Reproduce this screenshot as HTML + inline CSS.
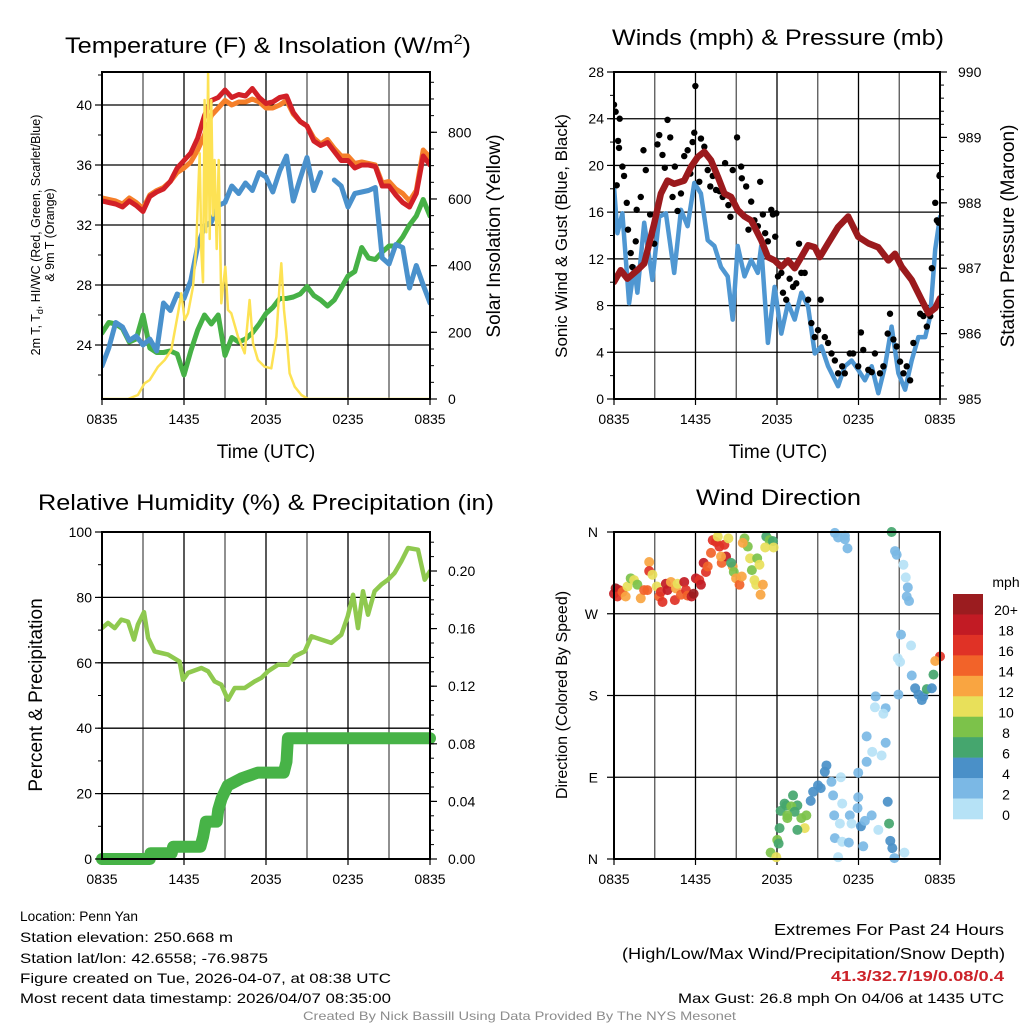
<!DOCTYPE html>
<html><head><meta charset="utf-8"><title>Mesonet Station Plot</title>
<style>
html,body{margin:0;padding:0;background:#fff;}
svg{display:block;font-family:"Liberation Sans",Arial,sans-serif;}
</style></head>
<body>
<svg id="fig" width="1024" height="1024" viewBox="0 0 1024 1024" xmlns="http://www.w3.org/2000/svg">
<rect x="0" y="0" width="1024" height="1024" fill="#fff"/>
<!-- titles -->
<text x="65" y="53" font-size="22" textLength="406" lengthAdjust="spacingAndGlyphs">Temperature (F) &amp; Insolation (W/m<tspan font-size="14" dy="-9">2</tspan><tspan dy="9">)</tspan></text>
<text x="612" y="45" font-size="22" textLength="332" lengthAdjust="spacingAndGlyphs">Winds (mph) &amp; Pressure (mb)</text>
<text x="38" y="510" font-size="22" textLength="456" lengthAdjust="spacingAndGlyphs">Relative Humidity (%) &amp; Precipitation (in)</text>
<text x="696" y="505" font-size="22" textLength="165" lengthAdjust="spacingAndGlyphs">Wind Direction</text>

<!-- axis titles -->
<text transform="translate(40,235) rotate(-90)" text-anchor="middle" font-size="12.5">2m T, T<tspan font-size="9" dy="3">d</tspan><tspan dy="-3">, HI/WC (Red, Green, Scarlet/Blue)</tspan></text>
<text transform="translate(54,235) rotate(-90)" text-anchor="middle" font-size="12.5">&amp; 9m T (Orange)</text>
<text transform="translate(500,236) rotate(-90)" text-anchor="middle" font-size="19">Solar Insolation (Yellow)</text>
<text x="266" y="458" text-anchor="middle" font-size="19">Time (UTC)</text>
<text transform="translate(567,236) rotate(-90)" text-anchor="middle" font-size="17">Sonic Wind &amp; Gust (Blue, Black)</text>
<text transform="translate(1014,236) rotate(-90)" text-anchor="middle" font-size="19">Station Pressure (Maroon)</text>
<text x="778" y="458" text-anchor="middle" font-size="19">Time (UTC)</text>
<text transform="translate(42,695) rotate(-90)" text-anchor="middle" font-size="19">Percent &amp; Precipitation</text>
<text transform="translate(567,695) rotate(-90)" text-anchor="middle" font-size="16">Direction (Colored By Speed)</text>

<!-- colorbar -->
<g id="colorbar"></g>
<text x="1006" y="587" text-anchor="middle" font-size="14">mph</text>

<!-- footer text -->
<g font-size="14">
<text x="20" y="921" textLength="118" lengthAdjust="spacingAndGlyphs">Location: Penn Yan</text>
<text x="20" y="942" textLength="213" lengthAdjust="spacingAndGlyphs">Station elevation: 250.668 m</text>
<text x="20" y="963" textLength="248" lengthAdjust="spacingAndGlyphs">Station lat/lon: 42.6558; -76.9875</text>
<text x="20" y="983" textLength="371" lengthAdjust="spacingAndGlyphs">Figure created on Tue, 2026-04-07, at 08:38 UTC</text>
<text x="20" y="1003" textLength="371" lengthAdjust="spacingAndGlyphs">Most recent data timestamp: 2026/04/07 08:35:00</text>
</g>
<g>
<text x="774" y="935" font-size="16" textLength="230" lengthAdjust="spacingAndGlyphs">Extremes For Past 24 Hours</text>
<text x="622" y="959" font-size="16" textLength="383" lengthAdjust="spacingAndGlyphs">(High/Low/Max Wind/Precipitation/Snow Depth)</text>
<text x="831" y="981" font-size="15" font-weight="bold" fill="#cc2229" textLength="173" lengthAdjust="spacingAndGlyphs">41.3/32.7/19/0.08/0.4</text>
<text x="678" y="1003" font-size="14" textLength="326" lengthAdjust="spacingAndGlyphs">Max Gust: 26.8 mph On 04/06 at 1435 UTC</text>
</g>
<text x="303" y="1020" font-size="12" fill="#8c8c8c" textLength="433" lengthAdjust="spacingAndGlyphs">Created By Nick Bassill Using Data Provided By The NYS Mesonet</text>
</svg>
<script>
// ---------- DATA ----------
var timeTickLabels = ["0835","1435","2035","0235","0835"];
var tempTicks = [24,28,32,36,40];
var solarTicks = [0,200,400,600,800];
var windTicks = [0,4,8,12,16,20,24,28];
var pressTicks = [985,986,987,988,989,990];
var rhTicks = [0,20,40,60,80,100];
var precipTicks = ["0.00","0.04","0.08","0.12","0.16","0.20"];
var dirTickLabels = ["N","E","S","W","N"];
var speedBinLabels = ["20+","18","16","14","12","10","8","6","4","2","0"];
var speedBinColors = ["#9b1c1f","#c21b24","#e03226","#f26329","#f9a541","#e8e05a","#7cc24a","#45a66e","#4a90c8","#7bb8e5","#b6e2f6"];

var tHalf = [0,0.5,1,1.5,2,2.5,3,3.5,4,4.5,5,5.5,6,6.5,7,7.5,8,8.5,9,9.5,10,10.5,11,11.5,12,12.5,13,13.5,14,14.5,15,15.5,16,16.5,17,17.5,18,18.5,19,19.5,20,20.5,21,21.5,22,22.5,23,23.5,24];
var temp2m = [33.6,33.5,33.4,33.2,33.6,33.3,32.9,33.9,34.2,34.4,34.9,35.8,36.3,36.8,37.8,39.3,40.3,40.5,41.0,40.5,40.7,40.6,41.1,40.5,40.1,40.2,40.5,40.6,39.5,38.9,38.6,37.6,37.3,37.5,36.9,36.3,36.3,35.8,36.0,36.0,35.9,34.6,34.6,34.0,33.5,33.2,34.1,36.6,36.0];
var temp9m = [33.8,33.7,33.6,33.4,33.8,33.5,33.1,34.0,34.3,34.5,34.9,35.5,35.8,36.2,37.0,38.0,39.3,39.8,40.3,40.0,40.2,40.2,40.4,40.2,39.8,39.8,40.0,40.3,39.4,38.9,38.6,37.8,37.4,37.7,37.1,36.6,36.6,36.1,36.2,36.1,36.0,34.8,34.9,34.4,34.1,33.6,34.3,37.0,36.5];
var windChill = [22.6,23.8,25.5,25.2,24.3,24.6,24.0,24.4,23.6,26.8,26.3,27.4,27.1,28.3,30.6,31.9,32.2,33.3,33.5,34.6,34.1,34.8,34.3,35.5,35.2,34.2,35.6,36.6,33.6,35.1,36.5,34.3,35.5,null,35.0,34.6,33.2,34.1,34.2,34.3,34.5,29.8,29.4,30.7,30.5,27.8,29.3,28.0,26.8];
var dewpoint = [24.8,25.5,25.4,25.1,24.2,24.4,26.0,23.8,23.5,23.5,23.6,23.4,22.0,23.6,25.0,26.0,25.4,26.0,23.3,24.5,24.2,24.4,24.8,25.4,26.1,26.5,27.1,27.1,27.2,27.4,27.9,27.3,27.0,26.6,27.0,27.8,28.6,28.9,30.5,29.8,29.7,30.2,30.6,30.6,31.2,32.0,32.6,33.7,32.6];

var solarTimes = [0,1.9,2.63,3.12,3.49,4.1,4.59,5.07,5.56,5.8,6.05,6.29,6.66,6.9,7.02,7.15,7.27,7.39,7.51,7.63,7.76,7.88,8.0,8.12,8.24,8.39,8.54,8.73,9.02,9.22,9.46,9.95,10.44,10.8,11.05,11.41,11.9,12.39,12.76,13.0,13.12,13.32,13.49,13.73,14.1,14.59,15.07,24];
var solarValues = [0,0,12,47,57,97,117,147,257,317,237,257,337,457,600,737,440,350,897,500,977,480,897,550,717,450,717,287,397,267,257,187,137,297,167,117,97,92,187,347,407,267,197,77,37,12,0,0];

var windTimes = [0,0.25,0.62,1.11,1.48,1.72,2.22,2.83,3.33,3.82,4.43,4.93,5.42,5.91,6.40,6.90,7.39,7.88,8.37,8.74,9.11,9.61,10.10,10.59,10.84,11.33,11.82,12.32,12.81,13.30,13.79,14.29,14.78,15.27,15.76,16.50,16.99,17.49,17.98,18.47,18.97,19.46,19.95,20.44,20.94,21.43,21.92,22.41,22.91,23.28,23.65,24];
var windSpeed = [18.2,14.2,15.9,8.2,11.3,9.1,15.1,10.2,15.6,15.9,10.8,16.2,14.8,18.5,17.6,13.6,13.1,11.3,10.5,6.8,13.1,10.5,11.9,10.8,13.1,4.8,9.6,5.6,8.2,6.8,9.1,7.9,3.9,4.5,2.8,1.1,2.8,3.3,2.5,1.6,2.8,0.5,2.8,6.2,2.2,0.8,3.3,5.3,5.3,7.1,12.8,15.6];
var gustTimes = [0,0.12,0.42,0.30,0.37,0.20,0.62,0.74,0.94,1.03,1.23,1.35,1.60,1.67,1.97,2.17,2.34,2.66,2.96,3.20,3.33,3.57,3.74,3.94,4.14,4.31,4.48,4.68,4.93,5.17,5.42,5.62,5.79,5.91,5.99,6.28,6.40,6.65,6.90,7.09,7.27,7.51,7.76,8.00,8.18,8.42,8.57,8.74,9.06,9.36,9.41,9.73,9.90,10.10,10.34,10.59,10.76,10.96,11.13,11.33,11.58,11.70,11.87,11.95,12.07,12.32,12.44,12.68,12.93,13.18,13.42,13.62,13.79,14.04,14.29,14.53,14.78,15.02,15.22,15.52,15.76,16.01,16.26,16.50,16.80,16.99,17.36,17.61,17.98,18.18,18.35,18.72,18.97,19.21,19.58,19.83,20.15,20.32,20.57,20.81,21.06,21.31,21.55,21.80,22.04,22.54,22.78,23.03,23.28,23.40,23.65,23.77,23.89,24.0,23.96];
var gustSpeed = [25.2,24.6,24.0,22.1,21.5,18.3,19.9,19.1,16.8,14.5,12.5,11.3,13.5,16.2,17.3,21.3,19.6,15.8,13.3,21.8,22.6,20.9,19.8,23.9,22.4,17.3,19.9,16.1,17.6,20.8,21.3,19.3,22.0,22.8,26.8,18.6,22.3,21.6,19.6,18.2,19.1,17.9,17.8,17.3,20.2,16.6,15.6,19.6,22.4,19.9,18.9,18.2,14.5,16.9,15.3,14.8,18.6,15.8,14.2,13.5,16.2,15.8,13.9,15.9,10.5,10.8,9.1,8.5,10.3,9.6,9.9,13.3,10.8,10.8,8.5,6.5,5.3,5.9,8.5,5.3,4.8,3.9,3.3,2.2,2.8,2.2,3.9,3.9,2.8,5.7,4.2,2.5,2.3,3.9,2.2,2.8,5.6,7.3,5.1,4.5,3.2,2.2,2.8,1.6,4.8,7.3,7.1,6.2,7.1,11.2,16.8,15.3,15.1,19.2,19.1];
var pressTimes = [0,0.49,0.99,1.72,2.22,2.96,3.45,3.94,4.43,5.17,5.67,6.16,6.65,7.14,7.64,8.13,8.62,9.11,9.61,10.10,10.84,11.33,11.82,12.32,12.81,13.30,13.79,14.29,14.78,15.15,15.76,16.50,17.24,17.98,18.72,19.46,20.20,20.69,21.18,21.92,22.66,23.15,23.65,24];
var pressure = [986.79,986.97,986.84,986.97,987.07,987.68,988.14,988.34,988.29,988.34,988.55,988.70,988.78,988.65,988.40,988.14,988.09,987.89,987.79,987.73,987.43,987.17,987.12,987.02,987.12,987.00,987.17,987.35,987.32,987.17,987.38,987.63,987.79,987.48,987.38,987.32,987.12,987.22,987.02,986.82,986.51,986.31,986.39,986.54];

var rhTimes = [0,0.44,0.93,1.41,1.9,2.34,2.63,3.07,3.37,3.85,4.34,4.83,5.68,5.93,6.29,7.27,7.76,8.24,8.73,9.22,9.71,10.44,11.17,11.66,12.15,12.88,13.61,14.10,14.83,15.32,16.05,16.78,17.51,17.98,18.37,18.73,19.10,19.46,19.95,20.44,20.93,21.41,21.90,22.39,23.12,23.61,24];
var rhValues = [70.6,72.2,70.6,73.2,72.6,67.1,71.7,75.5,67.6,63.5,63.0,62.5,60.4,54.8,56.9,58.4,57.4,54.3,53.3,48.7,52.3,52.3,54.3,55.4,57.4,59.4,59.4,62.0,63.5,68.1,67.1,66.1,68.6,74.2,80.8,70.6,81.9,74.7,81.9,83.9,85.4,87.5,91.0,95.1,94.6,85.4,88.0];
var precipTimes = [0,3.5,3.55,5.1,5.2,7.2,7.4,7.6,8.4,8.5,8.75,9.2,10.2,11.4,13.3,13.5,13.6,24];
var precipValues = [0,0,0.004,0.004,0.0085,0.0085,0.0155,0.026,0.026,0.034,0.042,0.051,0.056,0.060,0.060,0.0676,0.0838,0.0838];

var dirTimes = [0,0.12,0.37,0.25,0.62,0.86,0.99,1.23,1.48,1.72,1.97,2.22,2.46,2.59,2.59,2.83,3.15,3.33,3.57,3.45,3.82,3.94,4.19,4.48,4.56,4.68,4.93,5.17,5.30,5.42,5.71,5.86,6.03,6.28,6.40,6.60,6.77,6.90,7.14,7.27,7.51,7.64,7.76,7.93,8.13,8.25,8.42,7.88,8.74,8.62,8.82,8.99,9.24,9.41,9.61,9.85,9.48,10.02,10.15,10.34,10.47,10.54,10.71,10.79,10.96,11.21,11.45,11.70,11.13,11.75,
16.26,16.50,17.00,17.00,17.19,20.44,20.69,20.81,21.31,21.48,21.63,21.55,21.72,21.13,21.87,20.89,21.06,24.0,23.65,23.52,21.92,22.17,22.41,22.78,23.03,23.40,22.66,20.94,19.26,19.21,20.0,19.83,18.60,20.0,19.01,18.60,19.70,17.98,15.64,15.52,15.02,14.66,14.48,15.22,16.01,16.70,16.13,16.80,17.98,16.21,16.63,17.36,17.49,17.93,18.18,18.47,18.97,19.46,20.15,20.25,20.34,20.49,20.64,21.38,16.26,16.80,17.29,18.35,16.50,
13.18,12.68,12.27,12.76,13.50,13.79,14.16,14.04,13.50,12.19,12.02,12.12,11.53,11.95,12.56,13.05,13.30,12.76];
var dirDegrees = [292,298,296,289,294,289,300,309,307,302,287,296,296,327,317,313,300,289,283,294,303,296,305,285,298,303,291,305,296,290,289,292,309,307,302,326,316,322,337,351,349,355,344,326,346,333,353,333,322,326,316,309,302,311,353,344,348,331,318,307,302,331,324,291,302,355,351,350,343,343,
359,354,356,352,342,360,339,335,324,310,299,289,284,247,235,221,217,223,218,203,202,188,181,179,187,188,175,181,179,167,166,160,135,128,118,107,114,95,103,96,81,74,64,78,85,90,70,61,68,48,39,48,39,56,36,42,48,32,63,39,20,12,1,7,23,19,18,14,2,
70,59,53,45,59,45,48,34,32,34,21,17,7,2,61,58,52,48];
var dirSpeed = [18,20,18,16,14,12,10,8,10,8,12,14,14,12,16,10,10,14,16,16,18,18,12,16,12,10,14,18,16,14,18,20,18,16,18,18,16,14,14,16,16,10,16,14,16,18,10,12,12,6,8,12,14,12,8,8,12,10,8,10,10,8,10,13,12,6,8,6,10,10,
2,2,2,2,2,6,2,2,1,1,2,2,2,3,1,1,1,16,12,6,3,4,4,5,6,4,5,2,2,1,2,1,3,2,1,2,1,3,4,4,4,4,4,4,2,1,2,1,2,2,1,2,1,2,4,2,2,1,4,6,4,4,2,1,2,1,2,2,1,
6,6,6,8,6,8,8,10,6,6,8,6,8,10,6,8,6,8];

// ---------- RENDERING ----------
var NS = "http://www.w3.org/2000/svg";
var svg = document.getElementById("fig");
function mk(tag, attrs, parent) {
  var e = document.createElementNS(NS, tag);
  for (var k in attrs) e.setAttribute(k, attrs[k]);
  (parent || svg).appendChild(e);
  return e;
}
function linScale(d0, d1, r0, r1) { return function (v) { return r0 + (v - d0) / (d1 - d0) * (r1 - r0); }; }

var panels = {
  temp: {x0:102, x1:430, y0:72, y1:399},
  wind: {x0:614, x1:940, y0:72, y1:399},
  rh:   {x0:102, x1:430, y0:532, y1:859},
  dir:  {x0:614, x1:940, y0:532, y1:859}
};

function drawFrame(p, name, hLines) {
  var g = mk("g", {});
  
  
  var xs = linScale(0, 24, p.x0, p.x1);
  for (var h = 3; h < 24; h += 3) {
    var l = mk("line", {x1: xs(h), x2: xs(h), y1: p.y0, y2: p.y1, stroke: (h % 6 === 0 ? "#000" : "#555"), "stroke-width": 1.3}, g);
    
    
  }
  hLines.forEach(function (y) {
    var l = mk("line", {x1: p.x0, x2: p.x1, y1: y, y2: y, stroke: "#000", "stroke-width": 1.3}, g);
    
    
  });
  // x ticks & labels
  for (var i = 0; i < timeTickLabels.length; i++) {
    var x = xs(i * 6);
    mk("line", {x1: x, x2: x, y1: p.y1, y2: p.y1 + 6, stroke: "#000", "stroke-width": 1.2}, g);
    var t = mk("text", {x: x, y: p.y1 + 25, "text-anchor": "middle", "font-size": 14}, g);
    t.textContent = timeTickLabels[i];
    
    
  }
  return g;
}
function frameBorder(p) {
  var r = mk("rect", {x: p.x0, y: p.y0, width: p.x1 - p.x0, height: p.y1 - p.y0, fill: "none", stroke: "#000", "stroke-width": 2});
  
  
}
function yAxis(p, side, values, labels, scale, minorStep, minorRange, name) {
  var g = mk("g", {});
  
  
  var ax = side === "left" ? p.x0 : p.x1, dir = side === "left" ? -1 : 1;
  if (minorStep) {
    for (var v = minorRange[0]; v <= minorRange[1] + 1e-9; v += minorStep) {
      var yy = scale(v);
      if (yy < p.y0 - 0.5 || yy > p.y1 + 0.5) continue;
      mk("line", {x1: ax, x2: ax + dir * 4, y1: yy, y2: yy, stroke: "#000", "stroke-width": 1}, g);
    }
  }
  values.forEach(function (v, i) {
    var y = scale(v);
    mk("line", {x1: ax - (side==="left"?7:0), x2: ax + (side==="left"?0:7), y1: y, y2: y, stroke: "#000", "stroke-width": 1.2}, g);
    var t = mk("text", {x: side === "left" ? ax - 10 : ax + 18, y: y + 5, "text-anchor": side === "left" ? "end" : "start", "font-size": 14}, g);
    t.textContent = labels[i];
    
    
  });
}
function linePath(times, vals, xs, ys) {
  var d = "", pen = false;
  for (var i = 0; i < times.length; i++) {
    if (vals[i] === null) { pen = false; continue; }
    d += (pen ? "L" : "M") + xs(times[i]).toFixed(1) + "," + ys(vals[i]).toFixed(1);
    pen = true;
  }
  return d;
}
function clipFor(p, id) {
  var defs = mk("defs", {});
  var cp = mk("clipPath", {id: id}, defs);
  mk("rect", {x: p.x0, y: p.y0, width: p.x1 - p.x0, height: p.y1 - p.y0}, cp);
}

// ---- Panel 1: Temperature ----
(function () {
  var p = panels.temp;
  var xs = linScale(0, 24, p.x0, p.x1);
  var ys = linScale(40, 24, 105, 345);
  var ysR = linScale(0, 800, 399, 132.3);
  drawFrame(p, "temperature", tempTicks.map(ys));
  clipFor(p, "c1");
  var g = mk("g", {"clip-path": "url(#c1)", "stroke-linejoin": "round", "stroke-linecap": "round", fill: "none"});
  var s;
  s = mk("path", {d: linePath(tHalf, dewpoint, xs, ys), stroke: "#46b146", "stroke-width": 5}, g);
  
  
  s = mk("path", {d: linePath(tHalf, windChill, xs, ys), stroke: "#4a91cc", "stroke-width": 5}, g);
  
  
  s = mk("path", {d: linePath(tHalf, temp9m, xs, ys), stroke: "#f57f2a", "stroke-width": 5}, g);
  
  
  s = mk("path", {d: linePath(tHalf, temp2m, xs, ys), stroke: "#d22027", "stroke-width": 5}, g);
  
  
  s = mk("path", {d: linePath(solarTimes, solarValues, xs, ysR), stroke: "#fde254", "stroke-width": 2.5}, g);
  
  
  frameBorder(p);
  yAxis(p, "left", tempTicks, tempTicks, ys, 2, [20, 42]);
  yAxis(p, "right", solarTicks, solarTicks, ysR, 50, [0, 1000], "solar-axis");
})();

// ---- Panel 2: Winds ----
(function () {
  var p = panels.wind;
  var xs = linScale(0, 24, p.x0, p.x1);
  var ys = linScale(0, 28, 399, 72);
  var ysR = linScale(985, 990, 399, 72);
  drawFrame(p, "winds", windTicks.slice(1, 7).map(ys));
  clipFor(p, "c2");
  var g = mk("g", {"clip-path": "url(#c2)", "stroke-linejoin": "round", "stroke-linecap": "round", fill: "none"});
  var s = mk("path", {d: linePath(windTimes, windSpeed, xs, ys), stroke: "#4f97d2", "stroke-width": 4.5}, g);
  
  
  for (var i = 0; i < gustTimes.length; i++) {
    var c = mk("circle", {cx: xs(gustTimes[i]), cy: ys(gustSpeed[i]), r: 3.2, fill: "#000"}, g);
    
    
  }
  s = mk("path", {d: linePath(pressTimes, pressure, xs, ysR), stroke: "#9b1a1d", "stroke-width": 6.5}, g);
  
  
  frameBorder(p);
  yAxis(p, "left", windTicks, windTicks, ys, 2, [0, 28], "wind-axis");
  yAxis(p, "right", pressTicks, pressTicks, ysR, 0.2, [985, 990], "pressure-axis");
})();

// ---- Panel 3: RH & precip ----
(function () {
  var p = panels.rh;
  var xs = linScale(0, 24, p.x0, p.x1);
  var ys = linScale(0, 100, 859, 532);
  var ysR = linScale(0, 0.04, 859, 801.4);
  drawFrame(p, "humidity", rhTicks.slice(1, 5).map(ys));
  clipFor(p, "c3");
  var g = mk("g", {"stroke-linejoin": "round", "stroke-linecap": "round", fill: "none"});
  var s = mk("path", {d: linePath(rhTimes, rhValues, xs, ys), stroke: "#8fc94f", "stroke-width": 4.5, "clip-path": "url(#c3)"}, g);
  
  
  s = mk("path", {d: linePath(precipTimes, precipValues, xs, ysR), stroke: "#47b347", "stroke-width": 12}, g);
  
  
  frameBorder(p);
  yAxis(p, "left", rhTicks, rhTicks, ys, 10, [0, 100], "rh-axis");
  yAxis(p, "right", precipTicks.map(Number), precipTicks, ysR, 0.01, [0, 0.22], "precip-axis");
})();

// ---- Panel 4: Wind direction ----
(function () {
  var p = panels.dir;
  var xs = linScale(0, 24, p.x0, p.x1);
  var ys = linScale(0, 360, 859, 532);
  drawFrame(p, "wind-direction", [90, 180, 270].map(ys));
  clipFor(p, "c4");
  var g = mk("g", {});
  for (var i = 0; i < dirTimes.length; i++) {
    var bin = Math.min(10, Math.floor(dirSpeed[i] / 2));
    var c = mk("circle", {cx: xs(dirTimes[i]), cy: ys(dirDegrees[i]), r: 5, fill: speedBinColors[10 - bin], "fill-opacity": 0.92}, g);
    
    
  }
  frameBorder(p);
  var ag = mk("g", {});
  
  
  for (var k = 0; k < dirTickLabels.length; k++) {
    var y = ys(k * 90);
    mk("line", {x1: p.x0 - 7, x2: p.x0, y1: y, y2: y, stroke: "#000", "stroke-width": 1.2}, ag);
    var t = mk("text", {x: p.x0 - 16, y: y + 5, "text-anchor": "end", "font-size": 14}, ag);
    t.textContent = dirTickLabels[k];
    
    
  }
  // colorbar
  var cb = document.getElementById("colorbar");
  var bh = (819 - 594) / speedBinColors.length;
  for (var j = 0; j < speedBinColors.length; j++) {
    var r = mk("rect", {x: 953, y: 594 + j * bh, width: 30, height: bh + 0.3, fill: speedBinColors[j]}, cb);
    
    
    var tl = mk("text", {x: 1006, y: 594 + j * bh + bh / 2 + 11, "text-anchor": "middle", "font-size": 14}, cb);
    tl.textContent = speedBinLabels[j];
    
    
  }
})();
</script>
</body></html>
